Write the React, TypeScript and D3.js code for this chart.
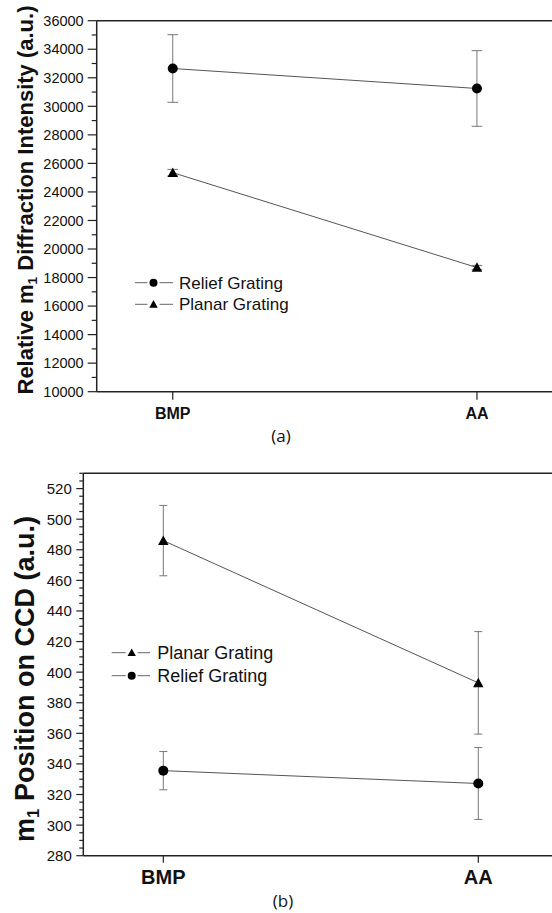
import { useEffect, useRef } from "react"
import * as d3 from "d3"

const categories = ["BMP", "AA"]

// panel (a): relative m1 diffraction intensity
const reliefIntensity = [32650, 31250]
const reliefIntensityErr = [2370, 2650]
const planarIntensity = [25350, 18700]
const planarIntensityErr = [230, 150]
const intensityTicks = [10000, 12000, 14000, 16000, 18000, 20000, 22000, 24000, 26000, 28000, 30000, 32000, 34000, 36000]

// panel (b): m1 position on CCD
const planarPosition = [486, 393]
const planarPositionErr = [23, 33.5]
const reliefPosition = [335.6, 327.2]
const reliefPositionErr = [12.5, 23.5]
const positionTicks = [280, 300, 320, 340, 360, 380, 400, 420, 440, 460, 480, 500, 520]

const FONT = "'Liberation Sans', Arial, sans-serif"

type Series = { name: string, shape: "circle" | "triangle", values: number[], errs: number[] }

function drawPanel(svg: any, cfg: any) {
  const { left, right, top, bottom, domain, pad, ticks, minorStep, series, legend, fs } = cfg
  const x = d3.scalePoint().domain(categories).range([left, right]).padding(pad)
  const y = d3.scaleLinear().domain(domain).range([bottom, top])
  const g = svg.append("g")

  // frame (right side runs off the page)
  g.append("line").attr("x1", left).attr("x2", 560).attr("y1", top).attr("y2", top)
    .attr("stroke", "#222").attr("stroke-width", 1.5)
  g.append("line").attr("x1", left).attr("x2", 560).attr("y1", bottom).attr("y2", bottom)
    .attr("stroke", "#222").attr("stroke-width", 1.5)
  g.append("line").attr("x1", left).attr("x2", left).attr("y1", top).attr("y2", bottom)
    .attr("stroke", "#222").attr("stroke-width", 1.5)

  // y ticks
  const minor = d3.range(domain[0], domain[1] + 1e-9, minorStep).filter((v: number) => !ticks.includes(v))
  g.selectAll(".minor").data(minor).join("line")
    .attr("x1", left - fs.minorLen).attr("x2", left)
    .attr("y1", (d: number) => y(d)).attr("y2", (d: number) => y(d))
    .attr("stroke", "#222").attr("stroke-width", 1.2)
  g.selectAll(".major").data(ticks).join("line")
    .attr("x1", left - fs.majorLen).attr("x2", left)
    .attr("y1", (d: number) => y(d)).attr("y2", (d: number) => y(d))
    .attr("stroke", "#222").attr("stroke-width", 1.2)
  g.selectAll(".ylab").data(ticks).join("text")
    .attr("x", left - fs.labelGap).attr("y", (d: number) => y(d))
    .attr("dy", "0.36em").attr("text-anchor", "end")
    .attr("font-family", FONT).attr("font-size", fs.tick).attr("fill", "#111")
    .text((d: number) => d)

  // x ticks
  categories.forEach(c => {
    g.append("line").attr("x1", x(c)).attr("x2", x(c)).attr("y1", bottom).attr("y2", bottom + fs.xTickLen)
      .attr("stroke", "#222").attr("stroke-width", 1.2)
    g.append("text").attr("x", x(c)).attr("y", bottom + fs.xLabelDy).attr("text-anchor", "middle")
      .attr("font-family", FONT).attr("font-weight", "bold").attr("font-size", fs.xLabel).attr("fill", "#111")
      .text(c)
  })

  // y title with subscript
  const t = g.append("text")
    .attr("transform", `translate(${fs.titleX},${fs.titleY}) rotate(-90)`)
    .attr("text-anchor", "middle")
    .attr("font-family", FONT).attr("font-weight", "bold").attr("font-size", fs.title).attr("fill", "#111")
  t.append("tspan").text(cfg.titlePre)
  t.append("tspan").attr("font-size", fs.title * 0.62).attr("dy", fs.title * 0.2).text("1")
  t.append("tspan").attr("dy", -fs.title * 0.2).text(cfg.titlePost)

  const marker = (sel: any, shape: string, cx: number, cy: number, r: number) => {
    if (shape === "circle") {
      sel.append("circle").attr("cx", cx).attr("cy", cy).attr("r", r).attr("fill", "#000")
    } else {
      const h = r * 1.9
      sel.append("path")
        .attr("d", `M${cx},${cy - h * 0.55}L${cx + r * 1.05},${cy + h * 0.45}L${cx - r * 1.05},${cy + h * 0.45}Z`)
        .attr("fill", "#000")
    }
  }

  // series
  series.forEach((s: Series) => {
    const line = d3.line<number>().x((_, i) => x(categories[i]) as number).y(d => y(d))
    g.append("path").attr("d", line(s.values)).attr("fill", "none")
      .attr("stroke", "#555").attr("stroke-width", 1)
    s.values.forEach((v, i) => {
      const cx = x(categories[i]) as number
      const y0 = y(v + s.errs[i]), y1 = y(v - s.errs[i])
      g.append("line").attr("x1", cx).attr("x2", cx).attr("y1", y0).attr("y2", y1)
        .attr("stroke", "#777").attr("stroke-width", 1)
      ;[y0, y1].forEach(yy => g.append("line").attr("x1", cx - fs.cap).attr("x2", cx + fs.cap)
        .attr("y1", yy).attr("y2", yy).attr("stroke", "#777").attr("stroke-width", 1))
      marker(g, s.shape, cx, y(v), fs.marker)
    })
  })

  // legend
  series.forEach((s: Series, i: number) => {
    const ly = legend.y + i * legend.gap
    g.append("line").attr("x1", legend.x).attr("x2", legend.mx - 6).attr("y1", ly).attr("y2", ly)
      .attr("stroke", "#666").attr("stroke-width", 1)
    g.append("line").attr("x1", legend.mx + 6).attr("x2", legend.x2).attr("y1", ly).attr("y2", ly)
      .attr("stroke", "#666").attr("stroke-width", 1)
    marker(g, s.shape, legend.mx, ly, legend.r)
    g.append("text").attr("x", legend.tx).attr("y", ly).attr("dy", "0.36em")
      .attr("font-family", FONT).attr("font-size", legend.fs).attr("fill", "#111")
      .text(s.name)
  })

  svg.append("text").attr("x", cfg.capX).attr("y", cfg.capY).attr("text-anchor", "middle")
    .attr("font-family", "'Open Sans', 'Noto Sans', sans-serif").attr("font-size", 17).attr("fill", "#111")
    .text(cfg.caption)
}

export default function App() {
  const svgRef = useRef<SVGSVGElement>(null)

  useEffect(() => {
    const svg = d3.select(svgRef.current)
    svg.selectAll("*").remove()
    svg.append("rect").attr("width", 552).attr("height", 913).attr("fill", "#fff")

    drawPanel(svg, {
      left: 96.7, right: 553, top: 20.7, bottom: 391.7, pad: 0.25,
      domain: [10000, 36000], ticks: intensityTicks, minorStep: 1000,
      series: [
        { name: "Relief Grating", shape: "circle", values: reliefIntensity, errs: reliefIntensityErr },
        { name: "Planar Grating", shape: "triangle", values: planarIntensity, errs: planarIntensityErr },
      ],
      legend: { x: 135, x2: 173, mx: 153.5, y: 282.7, gap: 21.6, r: 4, tx: 179, fs: 17 },
      fs: { tick: 14.5, majorLen: 9, minorLen: 5, labelGap: 13, xTickLen: 8, xLabelDy: 27.5, xLabel: 16,
        title: 22, titleX: 33, titleY: 200, cap: 5.3, marker: 5 },
      titlePre: "Relative m", titlePost: " Diffraction Intensity (a.u.)",
      caption: "(a)", capX: 281, capY: 442,
    })

    drawPanel(svg, {
      left: 83.3, right: 558.3, top: 473.3, bottom: 855.7, pad: 0.254,
      domain: [280, 530], ticks: positionTicks, minorStep: 5,
      series: [
        { name: "Planar Grating", shape: "triangle", values: planarPosition, errs: planarPositionErr },
        { name: "Relief Grating", shape: "circle", values: reliefPosition, errs: reliefPositionErr },
      ],
      legend: { x: 111.7, x2: 150, mx: 131.7, y: 652.7, gap: 23, r: 4, tx: 157.3, fs: 18 },
      fs: { tick: 15, majorLen: 7, minorLen: 4, labelGap: 11.5, xTickLen: 7, xLabelDy: 28.5, xLabel: 20,
        title: 27, titleX: 34, titleY: 679, cap: 4, marker: 5 },
      titlePre: "m", titlePost: " Position on CCD (a.u.)",
      caption: "(b)", capX: 283, capY: 907,
    })
  }, [])

  return (
    <svg ref={svgRef} width={552} height={913}
      style={{ position: "absolute", left: 0, top: 0, display: "block", overflow: "hidden" }} />
  )
}
